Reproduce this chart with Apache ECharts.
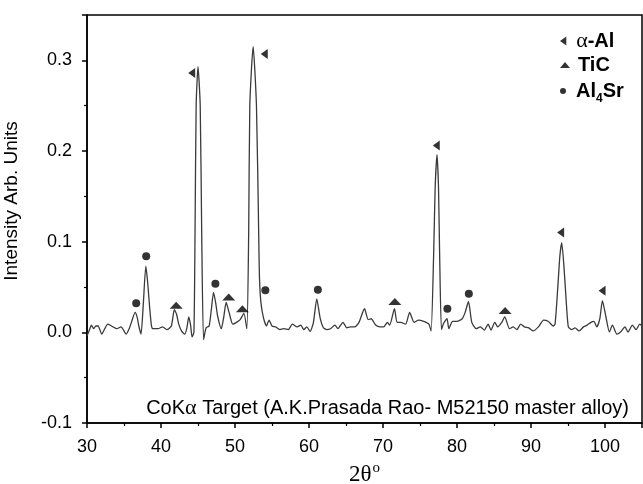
<!DOCTYPE html>
<html>
<head>
<meta charset="utf-8">
<script src="https://cdn.jsdelivr.net/npm/echarts@6/dist/echarts.min.js"></script>
<style>html,body{margin:0;padding:0;background:#fff}#c{width:643px;height:484px}</style>
</head>
<body>
<div id="c"></div>
<script>
// ---- data ----
var twoTheta = [30.0,30.3,30.6,30.9,31.2,31.5,32.0,32.4,32.8,33.3,34.0,34.6,35.3,35.7,36.0,36.5,36.8,37.0,37.3,37.6,37.95,38.2,38.45,38.7,38.9,39.6,40.2,40.8,41.4,41.8,42.1,42.4,42.8,43.2,43.5,43.75,44.0,44.2,44.45,44.6,44.75,45.0,45.3,45.5,45.75,46.1,46.5,46.8,47.1,47.4,47.65,48.15,48.5,48.8,49.2,49.7,50.2,50.7,51.2,51.6,51.85,52.0,52.45,52.9,53.2,53.3,53.5,53.85,54.25,54.6,55.0,55.5,56.05,56.6,57.2,57.75,58.4,58.9,59.3,59.7,60.15,60.6,61.05,61.5,61.95,62.4,62.9,63.5,63.9,64.6,65.1,65.6,66.2,66.75,67.5,68.0,68.4,69.0,69.6,70.1,70.6,70.9,71.55,71.9,72.4,73.05,73.6,74.2,74.8,75.5,76.2,76.5,76.85,77.05,77.3,77.5,77.65,77.9,78.2,78.65,78.9,79.4,80.0,80.7,81.1,81.55,82.0,82.6,83.15,83.7,84.2,84.6,85.1,85.5,86.05,86.45,87.1,87.6,88.1,88.6,89.1,89.7,90.3,91.0,91.7,92.35,93.0,93.25,93.6,93.9,94.15,94.45,94.8,95.05,95.5,95.95,96.5,97.1,97.6,98.1,98.5,98.9,99.3,99.65,100.1,100.6,101.0,101.6,102.1,102.7,103.1,103.7,104.2,104.7,105.0];
var intensity = [-0.004,0.002,0.008,0.004,0.007,0.007,-0.002,0.004,0.009,0.007,0.004,0.006,-0.002,0.004,0.011,0.022,0.016,0.007,-0.002,0.030,0.073,0.055,0.029,0.008,0.004,0.004,0.006,0.003,0.007,0.025,0.020,0.009,0.001,-0.002,0.005,0.017,0.008,-0.005,0.000,0.110,0.250,0.293,0.250,0.110,-0.008,0.005,0.007,0.025,0.044,0.032,0.018,0.004,0.018,0.033,0.022,0.009,0.011,0.014,0.021,0.004,0.110,0.250,0.315,0.250,0.110,0.062,0.033,0.016,0.007,0.0135,0.007,0.006,0.003,0.004,0.003,0.009,0.006,0.008,0.003,0.006,0.001,0.011,0.037,0.016,0.005,0.003,0.004,0.008,0.004,0.011,0.005,0.006,0.006,0.011,0.026,0.014,0.015,0.008,0.006,0.006,0.011,0.008,0.026,0.011,0.011,0.009,0.022,0.011,0.0135,0.012,0.009,0.0015,0.088,0.160,0.196,0.160,0.088,0.003,0.010,0.015,0.004,0.012,0.012,0.015,0.022,0.034,0.011,0.004,0.006,0.0025,0.009,0.0025,0.011,0.006,0.011,0.017,0.004,0.006,0.003,0.009,0.006,0.005,0.0015,0.006,0.0135,0.012,0.007,0.009,0.047,0.084,0.099,0.073,0.029,0.006,0.003,0.005,0.0015,0.006,0.008,0.011,0.012,0.006,0.015,0.035,0.018,0.0003,0.008,-0.002,0.0003,0.006,0.0003,0.008,0.003,0.009,0.007];

var alAlX = [44.15, 53.95, 77.2, 94.0, 99.6];
var alAlY = [0.286, 0.307, 0.206, 0.110, 0.046];
var ticX = [42.05, 49.15, 51.0, 71.6, 86.5];
var ticY = [0.030, 0.039, 0.026, 0.034, 0.024];
var al4SrX = [36.65, 38.0, 47.35, 54.1, 61.2, 78.7, 81.6];
var al4SrY = [0.032, 0.084, 0.0535, 0.0465, 0.047, 0.026, 0.0425];

var xTicks = [30, 40, 50, 60, 70, 80, 90, 100];
var yTicks = [-0.1, 0.0, 0.1, 0.2, 0.3];

var seriesNames = ['α-Al', 'TiC', 'Al4Sr'];

// ---- build ----
function zip(a, b) { return a.map(function (v, i) { return [v, b[i]]; }); }
var leftTri = 'path://M7,0 L7,10 L0,5 Z';
var upTri = 'path://M0,7 L6,0 L12,7 Z';
var upTriLeg = 'path://M0,6 L5,0 L10,6 Z';

var legendRich = {
  b: { fontFamily: 'Arial, Liberation Sans', fontWeight: 'bold', fontSize: 20, color: '#000' },
  g: { fontFamily: 'Liberation Serif, Times New Roman', fontWeight: 'normal', fontSize: 22, color: '#000' },
  s: { fontFamily: 'Arial, Liberation Sans', fontWeight: 'bold', fontSize: 12, color: '#000', padding: [16, 0, 0, 0] }
};
function legendFmt(n) {
  if (n === 'α-Al') return '{g|α}{b|-Al}';
  if (n === 'Al4Sr') return '{b|Al}{s|4}{b|Sr}';
  return '{b|' + n + '}';
}
function mkLegend(name, icon, top, h) {
  return {
    data: [{ name: name, icon: icon }],
    left: 560, top: top, orient: 'vertical',
    itemWidth: 16, itemHeight: h, itemGap: 0, padding: 0,
    selectedMode: false,
    symbolKeepAspect: true,
    formatter: legendFmt,
    textStyle: { rich: legendRich, color: '#000', fontSize: 20 }
  };
}

var chart = echarts.init(document.getElementById('c'), null, { renderer: 'canvas' });
chart.setOption({
  animation: false,
  backgroundColor: '#fff',
  grid: { left: 87, right: 1, top: 15, bottom: 61, containLabel: false, outerBoundsMode: 'none',
    show: true, borderColor: '#000', borderWidth: 1.5, backgroundColor: 'transparent' },
  title: {
    text: '{a|CoK}{g|α}{a| Target (A.K.Prasada Rao- M52150 master alloy)}',
    right: 9, top: 392,
    textStyle: {
      fontWeight: 'normal',
      rich: {
        a: { fontFamily: 'Arial, Liberation Sans', fontWeight: 'normal', fontSize: 20, color: '#000' },
        g: { fontFamily: 'Liberation Serif, Times New Roman', fontWeight: 'normal', fontSize: 22, color: '#000' }
      }
    }
  },
  legend: [
    mkLegend(seriesNames[0], leftTri, 30, 9),
    mkLegend(seriesNames[1], upTriLeg, 55, 6),
    mkLegend(seriesNames[2], 'circle', 81, 6)
  ],
  xAxis: {
    type: 'value', min: 30, max: 105, interval: 10,
    name: '{a|2θ}{o|o}', nameLocation: 'middle', nameGap: 37,
    nameTextStyle: {
      rich: {
        a: { fontFamily: 'Liberation Serif, Times New Roman', fontSize: 23, color: '#000' },
        o: { fontFamily: 'Liberation Serif, Times New Roman', fontSize: 15, color: '#000', padding: [0, 0, 14, 1] }
      }
    },
    axisLine: { onZero: false, lineStyle: { color: '#000', width: 1.5 } },
    axisTick: { inside: false, length: 5, lineStyle: { color: '#000', width: 1.5 } },
    minorTick: { show: true, splitNumber: 2, length: 3, lineStyle: { color: '#000', width: 1.2 } },
    splitLine: { show: false },
    axisLabel: {
      margin: 15, fontFamily: 'Arial, Liberation Sans', fontSize: 18, color: '#000',
      formatter: function (v) { return xTicks.indexOf(v) >= 0 ? String(v) : ''; }
    }
  },
  yAxis: {
    type: 'value', min: -0.1, max: 0.35, interval: 0.1,
    name: 'Intensity Arb. Units', nameLocation: 'middle', nameGap: 66,
    nameTextStyle: { fontFamily: 'Arial, Liberation Sans', fontSize: 19, color: '#000', padding: [0, 0, 0, 36] },
    axisLine: { onZero: false, lineStyle: { color: '#000', width: 1.5 } },
    axisTick: { inside: false, length: 5, lineStyle: { color: '#000', width: 1.5 } },
    minorTick: { show: true, splitNumber: 2, length: 3, lineStyle: { color: '#000', width: 1.2 } },
    splitLine: { show: false },
    axisLabel: {
      margin: 15, fontFamily: 'Arial, Liberation Sans', fontSize: 18, color: '#000',
      formatter: function (v) {
        for (var i = 0; i < yTicks.length; i++) { if (Math.abs(v - yTicks[i]) < 1e-9) return yTicks[i].toFixed(1); }
        return '';
      }
    }
  },
  series: [
    {
      type: 'line', name: 'XRD', data: zip(twoTheta, intensity),
      showSymbol: false, smooth: 0.2,
      lineStyle: { color: '#3a3a3a', width: 1.3 }, z: 2
    },
    {
      type: 'scatter', name: seriesNames[0], data: zip(alAlX, alAlY),
      symbol: leftTri, symbolSize: [7, 10], itemStyle: { color: '#000' }, z: 3
    },
    {
      type: 'scatter', name: seriesNames[1], data: zip(ticX, ticY),
      symbol: upTri, symbolSize: [13, 7], itemStyle: { color: '#000' }, z: 3
    },
    {
      type: 'scatter', name: seriesNames[2], data: zip(al4SrX, al4SrY),
      symbol: 'circle', symbolSize: 8, itemStyle: { color: '#000' }, z: 3
    }
  ]
});
</script>
</body>
</html>
